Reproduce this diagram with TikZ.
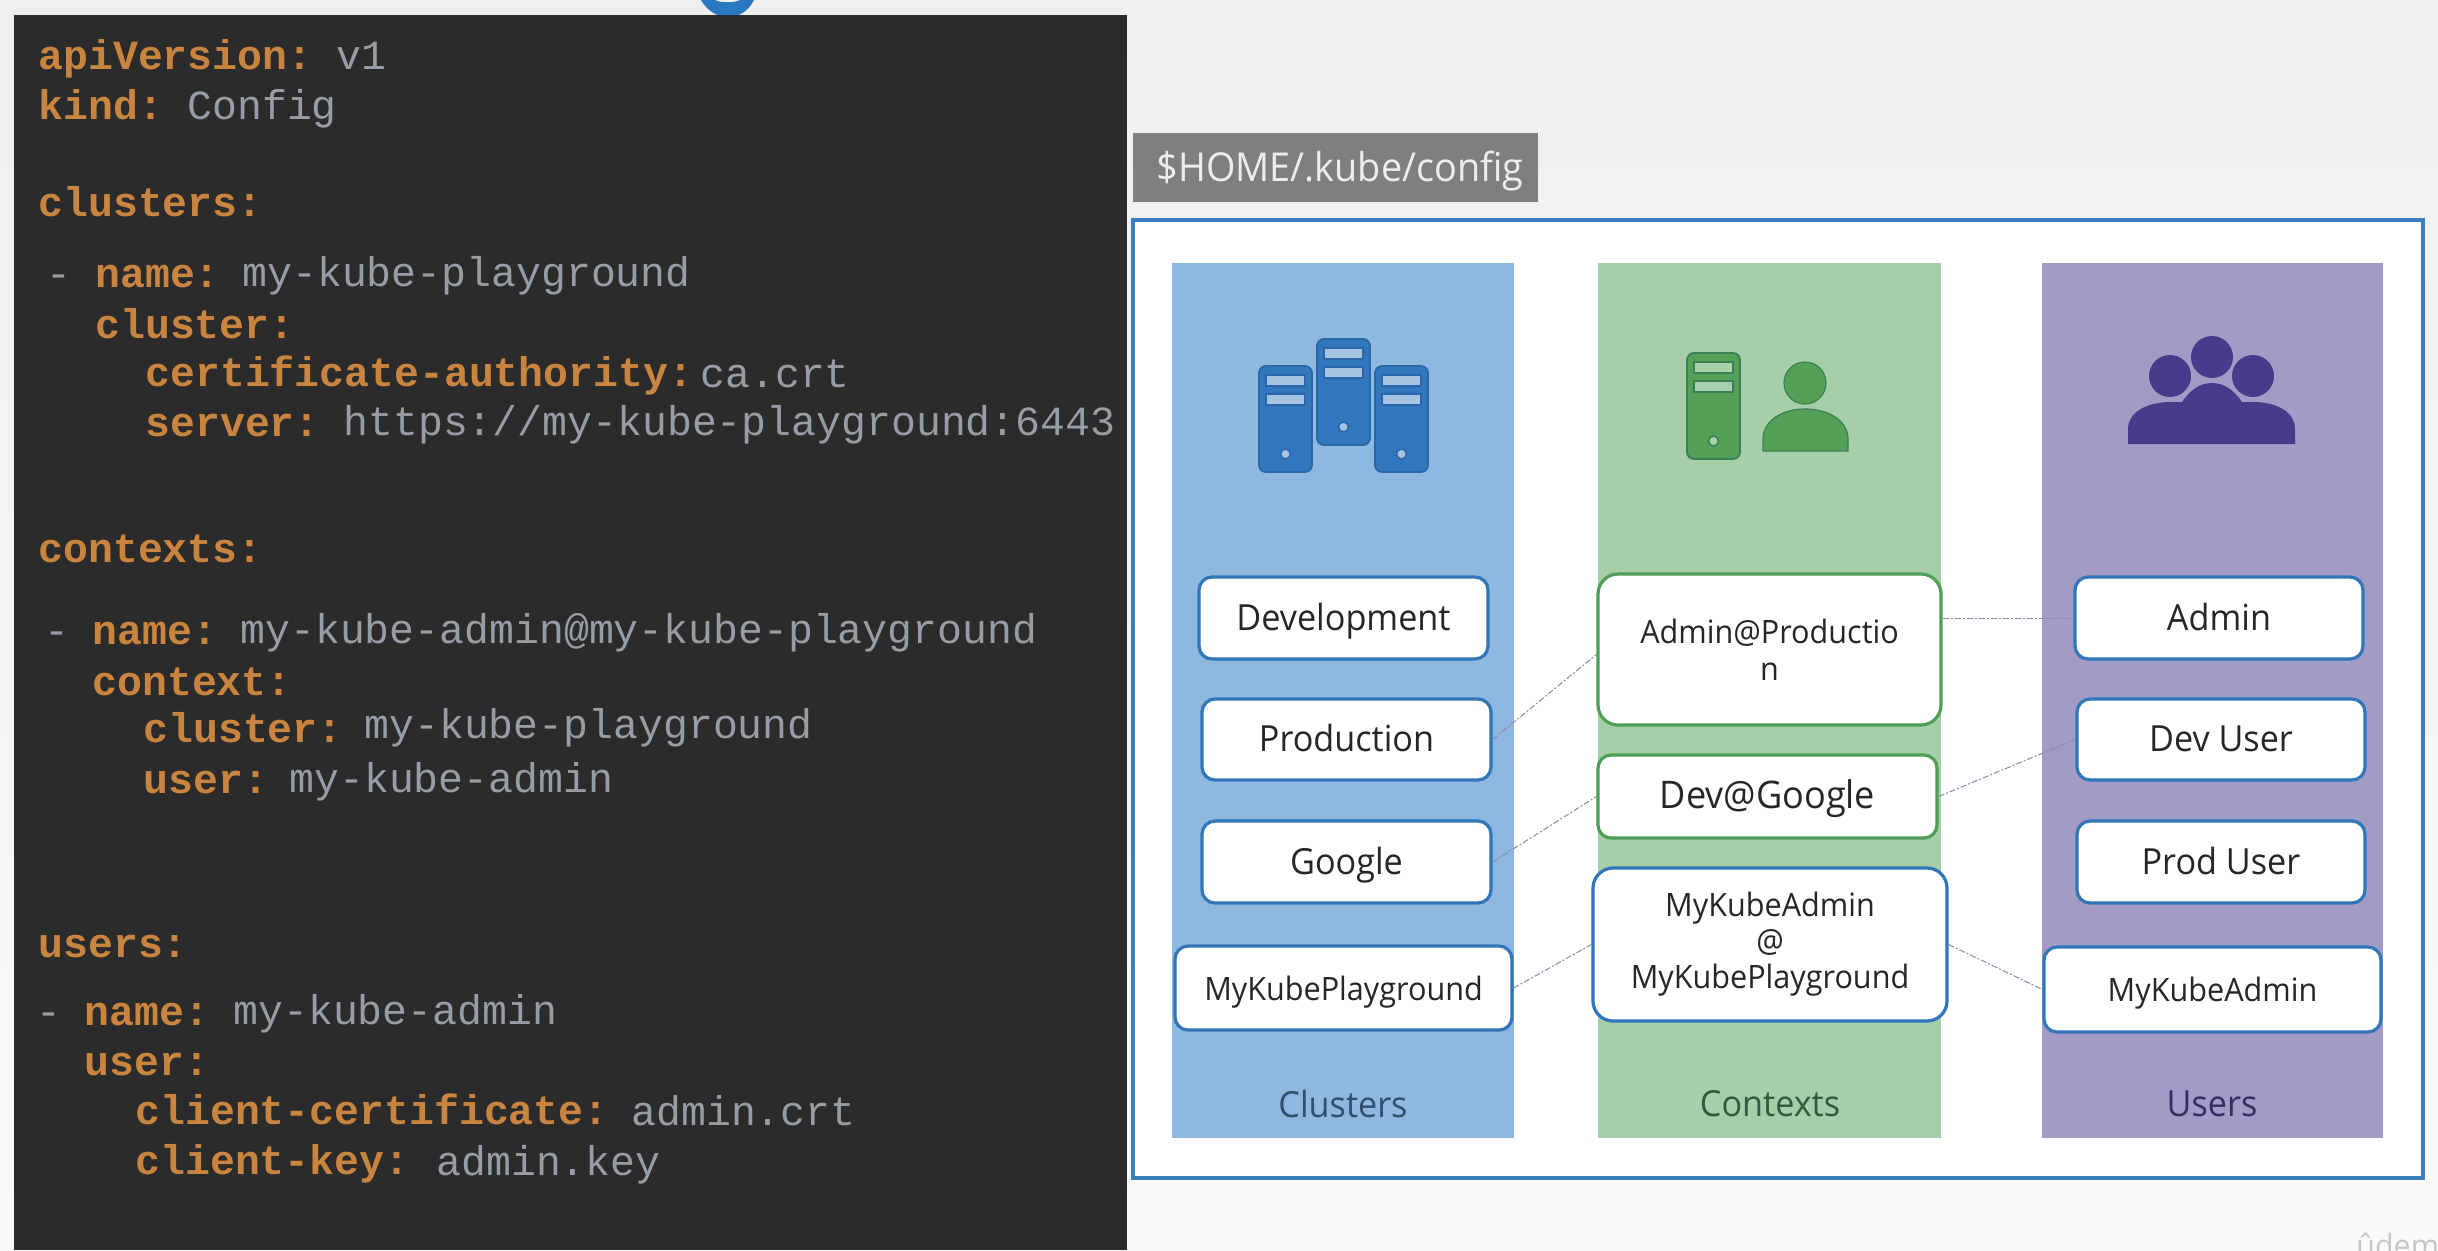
\documentclass[tikz,border=0pt]{standalone}
\usepackage{fontspec}
\usetikzlibrary{calc}
\setmainfont[FakeStretch=0.95]{Open Sans}
\newfontfamily\codefont{Liberation Mono}
\definecolor{pagebgtop}{HTML}{EFEFEF}
\definecolor{pagebgbot}{HTML}{FAFAFA}
\definecolor{panelbg}{HTML}{2B2B2B}
\definecolor{keyc}{HTML}{C9853F}
\definecolor{valc}{HTML}{979DA6}
\definecolor{titleblue}{HTML}{2B78C2}
\definecolor{tagbg}{HTML}{7F7F7F}
\definecolor{framec}{HTML}{3B80BE}
\definecolor{colblue}{HTML}{8FB8E0}
\definecolor{colgreen}{HTML}{A6CEA8}
\definecolor{colpurple}{HTML}{A29BC6}
\definecolor{boxblue}{HTML}{3076B8}
\definecolor{boxgreen}{HTML}{4E9E57}
\definecolor{iconblue}{HTML}{3277BE}
\definecolor{iconblueline}{HTML}{2A66A8}
\definecolor{slotblue}{HTML}{A6C4E2}
\definecolor{icongreen}{HTML}{55A057}
\definecolor{icongreenline}{HTML}{3A7F55}
\definecolor{slotgreen}{HTML}{A9D0AC}
\definecolor{iconpurple}{HTML}{4A3A8C}
\definecolor{linkc}{HTML}{8A8AA8}
\tikzset{
  codekey/.style={anchor=base west,inner sep=0pt,text=keyc,font=\codefont\bfseries\fontsize{20.75}{24}\selectfont},
  codeval/.style={anchor=base west,inner sep=0pt,text=valc,font=\codefont\fontsize{20.75}{24}\selectfont},
  cfgbox/.style={draw=boxblue,line width=1.6pt,fill=white,rounded corners=6.5pt,inner sep=0pt,align=center,text=black!85,font=\fontsize{18}{18.5}\selectfont},
  cfgboxg/.style={cfgbox,draw=boxgreen},
  oneline/.style={text height=14.6pt,text depth=2.2pt},
  collabel/.style={inner sep=0pt,text height=14.6pt,text depth=2.2pt,font=\fontsize{18}{20}\selectfont},
  linkline/.style={draw=linkc,line width=0.5pt,dash pattern=on 3pt off 1pt on 1pt off 1pt}
}
\newcommand{\srv}[5]{% x y(top) fill line slot
  \begin{scope}[shift={(#1,#2)}]
    \fill[#3,draw=#4,line width=0.9pt,rounded corners=3.5pt] (0,0) rectangle (53,106);
    \fill[#5,draw=#4,line width=0.8pt] (7,9) rectangle (46,20);
    \fill[#5,draw=#4,line width=0.8pt] (7,28) rectangle (46,39);
    \fill[#5,draw=#4,line width=0.8pt] (26.5,88) circle [radius=5];
  \end{scope}}
\begin{document}
\begin{tikzpicture}[x=0.5pt,y=-0.5pt]
\useasboundingbox (0,0) rectangle (2438,1250);
\shade[top color=pagebgtop,bottom color=pagebgbot] (0,0) rectangle (2438,1250);
% fragment of the cut-off title
\fill[titleblue] (701,0) .. controls (708,12) and (718,17) .. (728,17) .. controls (738,17) and (748,12) .. (754,0) -- (740,0) .. controls (735,3) and (720,3) .. (715,0) -- cycle;
% code panel
\fill[panelbg] (14,15) rectangle (1127,1250);
\begin{scope}[shift={(0,1.5)}]
\node[codekey] (k1) at (38,68) {apiVersion:};
\node[codeval] (v1) at (336,68) {v1};
\node[codekey] (k2) at (38,118) {kind:};
\node[codeval] (v2) at (187,118) {Config};
\node[codekey] (k3) at (38,215) {clusters:};
\node[codeval] (d1) at (46,286) {-};
\node[codekey] (k4) at (95,286) {name:};
\node[codeval] (v4) at (242,285) {my-kube-playground};
\node[codekey] (k5) at (95,337) {cluster:};
\node[codekey] (k6) at (145,385) {certificate-authority:};
\node[codeval] (v6) at (700,386) {ca.crt};
\node[codekey] (k7) at (145,435) {server:};
\node[codeval] (v7) at (343,434) {https://my-kube-playground:6443};
\node[codekey] (k8) at (38,561) {contexts:};
\node[codeval] (d2) at (44,643) {-};
\node[codekey] (k9) at (92,643) {name:};
\node[codeval] (v9) at (240,642) {my-kube-admin@my-kube-playground};
\node[codekey] (k10) at (92,694) {context:};
\node[codekey] (k11) at (143,741) {cluster:};
\node[codeval] (v11) at (364,737) {my-kube-playground};
\node[codekey] (k12) at (143,792) {user:};
\node[codeval] (v12) at (289,791) {my-kube-admin};
\node[codekey] (k13) at (38,956) {users:};
\node[codeval] (d3) at (36,1024) {-};
\node[codekey] (k14) at (84,1024) {name:};
\node[codeval] (v14) at (233,1023) {my-kube-admin};
\node[codekey] (k15) at (84,1074) {user:};
\node[codekey] (k16) at (135,1123) {client-certificate:};
\node[codeval] (v16) at (631,1124) {admin.crt};
\node[codekey] (k17) at (135,1173) {client-key:};
\node[codeval] (v17) at (436,1174) {admin.key};
\end{scope}
% config tag and frame
\node[fill=tagbg,minimum width=202.5pt,minimum height=34.5pt,inner sep=0pt,text height=19pt,text depth=4.6pt,text=white!93!black,font=\fontsize{19.9}{22}\selectfont] (tag) at (1335.5,167.5) {\hspace*{4.6pt}\$HOME/.kube/config};
\draw[framec,line width=2pt,fill=white] (1133,220) rectangle (2423,1178);
% columns
\fill[colblue] (1172,263) rectangle (1514,1138);
\fill[colgreen] (1598,263) rectangle (1941,1138);
\fill[colpurple] (2042,263) rectangle (2383,1138);
% icons
\srv{1259}{366}{iconblue}{iconblueline}{slotblue}
\srv{1317}{339}{iconblue}{iconblueline}{slotblue}
\srv{1375}{366}{iconblue}{iconblueline}{slotblue}
\srv{1687}{353}{icongreen}{icongreenline}{slotgreen}
\fill[icongreen,draw=icongreenline,line width=0.6pt] (1805,383) circle [radius=21];
\fill[icongreen,draw=icongreenline,line width=0.6pt] (1763,451) -- (1763,439) .. controls (1763,421) and (1782,409) .. (1805,409) .. controls (1829,409) and (1848,421) .. (1848,439) -- (1848,451) -- cycle;
\fill[iconpurple] (2212,357) circle [radius=21];
\fill[iconpurple] (2170,376) circle [radius=21];
\fill[iconpurple] (2253,376) circle [radius=21];
\fill[iconpurple] (2128,444) -- (2128,429) .. controls (2128,413) and (2145,403) .. (2168,402) -- (2182,402) .. controls (2190,390) and (2200,383) .. (2212,383) .. controls (2224,383) and (2234,390) .. (2242,402) -- (2256,402) .. controls (2279,403) and (2295,413) .. (2295,429) -- (2295,444) -- cycle;
% column labels
\node[collabel,text={rgb,255:red,48;green,80;blue,111}] (lc) at (1343,1105) {Clusters};
\node[collabel,text={rgb,255:red,47;green,92;blue,62}] (lx) at (1770,1104) {Contexts};
\node[collabel,text={rgb,255:red,55;green,44;blue,102}] (lu) at (2212,1104) {Users};
% cluster boxes
\node[cfgbox,oneline,minimum width=144.5pt,minimum height=41pt] (dev) at (1343.5,618) {Development};
\node[cfgbox,oneline,minimum width=144.5pt,minimum height=40.5pt] (prod) at (1346.5,739.5) {Production};
\node[cfgbox,oneline,minimum width=144.5pt,minimum height=41pt] (goog) at (1346.5,862) {Google};
\node[cfgbox,oneline,minimum width=168.5pt,minimum height=42pt,font=\fontsize{16.1}{18}\selectfont] (mkp) at (1343.5,988) {MyKubePlayground};
% context boxes
\node[cfgboxg,minimum width=171.5pt,minimum height=75.5pt,rounded corners=10pt,font=\fontsize{16.1}{18.7}\selectfont] (ap) at (1769.5,649.5) {Admin@Productio\\n};
\node[cfgboxg,oneline,minimum width=169.5pt,minimum height=41.5pt,font=\fontsize{19}{20}\selectfont] (dg) at (1767.5,796.5) {Dev@Google};
\node[cfgbox,minimum width=177pt,minimum height=76.5pt,rounded corners=10pt,font=\fontsize{16.1}{18}\selectfont] (mm) at (1770,944.5) {MyKubeAdmin\\@\\MyKubePlayground};
% user boxes
\node[cfgbox,oneline,minimum width=144pt,minimum height=41pt] (adm) at (2219,618) {Admin};
\node[cfgbox,oneline,minimum width=144pt,minimum height=40.5pt] (du) at (2221,739.5) {Dev User};
\node[cfgbox,oneline,minimum width=144pt,minimum height=41pt] (pu) at (2221,862) {Prod User};
\node[cfgbox,oneline,minimum width=168.5pt,minimum height=42.5pt,font=\fontsize{16.1}{18}\selectfont] (mka) at (2212.5,989.5) {MyKubeAdmin};
% connectors
\draw[linkline] (prod.east) -- ($(ap.west)+(0,5)$);
\draw[linkline] (goog.east) -- (dg.west);
\draw[linkline] (mkp.east) -- (mm.west);
\draw[linkline] (ap.east |- adm.west) -- (adm.west);
\draw[linkline] (dg.east) -- (du.west);
\draw[linkline] (mm.east) -- (mka.west);
% watermark
\node[inner sep=0pt,anchor=base west,text=black!22,font=\fontsize{16}{18}\selectfont] (wm) at (2356,1257) {ûdemy};
\end{tikzpicture}
\end{document}
